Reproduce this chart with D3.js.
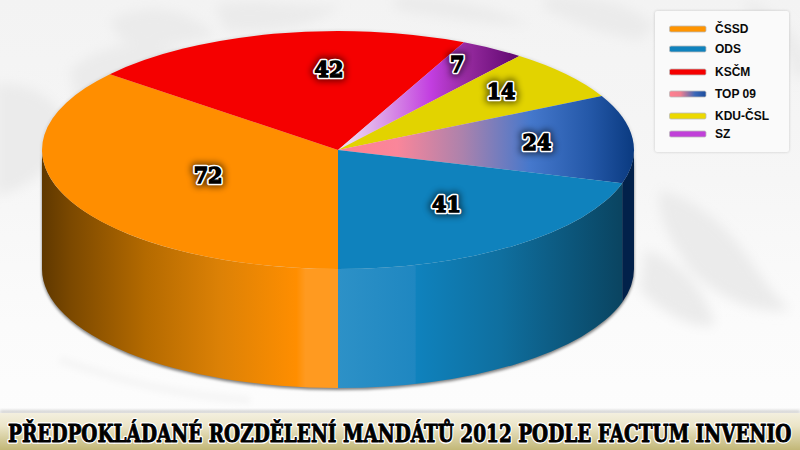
<!DOCTYPE html>
<html><head><meta charset="utf-8">
<script src="https://cdn.jsdelivr.net/npm/d3@7/dist/d3.min.js"></script>
<style>html,body{margin:0;padding:0;background:#fff;overflow:hidden}svg{display:block}</style>
</head><body><svg id="c" width="800" height="450"></svg>
<script>
// --- data ---
const parties = ["ČSSD","KSČM","SZ","KDU-ČSL","TOP 09","ODS"];   // clockwise from the bottom of the pie
const seats   = [72,42,7,14,24,41];
const legendOrder = ["ČSSD","ODS","KSČM","TOP 09","KDU-ČSL","SZ"];
const titleText = "PŘEDPOKLÁDANÉ ROZDĚLENÍ MANDÁTŮ 2012 PODLE FACTUM INVENIO";

// --- layout & style (kept apart from data) ---
const W=800,H=450,cx=338,cy=150,rx=296,ry=119,depth=119;
const topFill={"ČSSD":"#ff8e00","KSČM":"#f50000","SZ":"url(#gSZ)","KDU-ČSL":"#e2d300","TOP 09":"url(#gTOP)","ODS":"#0f82bd"};
const legendFill={"ČSSD":"#ff9400","ODS":"#0f82bd","KSČM":"#f50000","TOP 09":"url(#gLeg)","KDU-ČSL":"#ecd900","SZ":"#c040d8"};
const sideFill={"ČSSD":"url(#sO)","ODS":"url(#sB)","TOP 09":"#02214a"};
const labelFrac={"ČSSD":[.485,.49],"KSČM":[.14,.706],"SZ":[.77,.85],"KDU-ČSL":[.715,.79],"TOP 09":[.675,.715],"ODS":[.61,.557]};
const legendRowY=[29,49,72,94,116,134];

const svg=d3.select("#c");
const defs=svg.append("defs");
function lin(id,x1,x2,stops,units){
  const g=defs.append("linearGradient").attr("id",id).attr("x1",x1).attr("x2",x2).attr("y1",0).attr("y2",0)
    .attr("gradientUnits",units||"userSpaceOnUse");
  stops.forEach(s=>g.append("stop").attr("offset",s[0]).attr("stop-color",s[1]));
}
lin("gTOP",0,rx,[[0,"#ff8090"],[.2,"#fa869a"],[.42,"#ac82ac"],[.65,"#4578cc"],[.85,"#2458a8"],[1,"#0a3a80"]]);
lin("gSZ",10,176,[[0,"#ecd8f2"],[.25,"#d890e6"],[.5,"#c23ee0"],[.72,"#952a9e"],[1,"#640a74"]]);
lin("gLeg",0,1,[[0,"#ff8090"],[.3,"#f07f90"],[.7,"#3a68b8"],[1,"#1c4c9c"]],"objectBoundingBox");
lin("sO",cx-rx,cx,[[0,"#5f3800"],[.1,"#7c4900"],[.35,"#b46a00"],[.6,"#dc8106"],[.86,"#ff8e00"],[.89,"#ff9a20"],[1,"#ff9a20"]]);
lin("sB",cx,cx+rx,[[0,"#2d91c7"],[.26,"#1f87c1"],[.265,"#0f82bd"],[.55,"#0f6f9f"],[.95,"#0a4562"],[1,"#0a4562"]]);
const gBand=defs.append("linearGradient").attr("id","gBand").attr("x1",0).attr("x2",0).attr("y1",0).attr("y2",1);
[[0,"#f3efdf"],[.35,"#ebe5c8"],[1,"#c2b777"]].forEach(s=>gBand.append("stop").attr("offset",s[0]).attr("stop-color",s[1]));
const gBg=defs.append("linearGradient").attr("id","gBg").attr("x1",0).attr("x2",0).attr("y1",0).attr("y2",1);
[[0,"#f3f3f3"],[.4,"#f6f6f6"],[.72,"#fbfbfb"],[1,"#fdfdfd"]].forEach(s=>gBg.append("stop").attr("offset",s[0]).attr("stop-color",s[1]));
function mkBlur(id,sd){defs.append("filter").attr("id",id).attr("x","-50%").attr("y","-50%").attr("width","200%").attr("height","200%")
  .append("feGaussianBlur").attr("stdDeviation",sd);}
mkBlur("b1",1.6);mkBlur("b3",3);mkBlur("b5",6);

// background (faint embossed ornament)
svg.append("rect").attr("width",W).attr("height",H).attr("fill","url(#gBg)");
const tex=svg.append("g").attr("filter","url(#b5)").attr("fill","#ebebeb");
[
 "M70 70 C110 35 170 40 190 60 C170 85 130 110 80 120Z",
 "M110 20 C150 0 190 10 215 35 C185 45 150 50 120 40Z",
 "M-5 85 C30 80 60 100 70 130 C55 165 30 190 -5 195Z",
 "M215 5 C260 -5 300 10 340 5 C320 25 270 35 225 30Z",
 "M395 -5 C440 -5 490 5 530 25 C480 25 430 15 395 10Z",
 "M660 190 C700 200 730 230 750 260 C770 290 780 300 790 310 C760 315 720 300 690 270 C670 240 655 215 660 190Z",
 "M645 250 C680 260 705 290 715 325 C690 330 660 310 640 290Z",
 "M545 -5 C600 -5 630 5 655 25 L640 40 C600 35 570 20 545 10Z",
 "M745 0 C775 10 800 30 810 70 L795 80 C790 50 770 20 745 10Z"
].forEach(d=>tex.append("path").attr("d",d));
svg.append("path").attr("d","M60 360 C120 380 170 395 250 400").attr("fill","none").attr("stroke","#f5f5f5").attr("stroke-width",8).attr("filter","url(#b3)");

// pie layout
const pie=d3.pie().value(d=>d.v).sort(null).startAngle(Math.PI).endAngle(3*Math.PI);
const arcs=pie(parties.map((p,i)=>({p,v:seats[i]})));
const ex=a=>cx+rx*Math.sin(a), ey=(a,h=0)=>cy-ry*Math.cos(a)+h;

const wallPath=(a0,a1)=>{
  const large=(a1-a0)>Math.PI?1:0;
  return `M${ex(a0)},${ey(a0)}A${rx},${ry} 0 ${large} 1 ${ex(a1)},${ey(a1)}`+
         `L${ex(a1)},${ey(a1,depth)}A${rx},${ry} 0 ${large} 0 ${ex(a0)},${ey(a0,depth)}Z`;
};
// shadow below the pie
const fl=svg.append("g");
fl.append("path").attr("d",wallPath(Math.PI/2,3*Math.PI/2)).attr("transform","translate(0,2)").attr("fill","#000").attr("opacity",.5).attr("filter","url(#b1)");
fl.append("ellipse").attr("cx",cx).attr("cy",cy).attr("rx",rx+1).attr("ry",ry+1).attr("fill","#000").attr("opacity",.08).attr("filter","url(#b1)");

// side walls
arcs.forEach(d=>{
  const s=d.startAngle,e=d.endAngle;
  [[s,e],[s-2*Math.PI,e-2*Math.PI]].forEach(r=>{
    const a0=Math.max(r[0],Math.PI/2),a1=Math.min(r[1],3*Math.PI/2);
    if(a1>a0&&sideFill[d.data.p]) fl.append("path").attr("d",wallPath(a0,a1)).attr("fill",sideFill[d.data.p]);
  });
});

// top surface
const arcGen=d3.arc().innerRadius(0).outerRadius(rx);
const topG=svg.append("g").attr("transform",`translate(${cx},${cy}) scale(1,${ry/rx})`);
topG.selectAll("path").data(arcs).join("path").attr("d",arcGen).attr("fill",d=>topFill[d.data.p]);

// value labels
const lblFont="'DejaVu Serif Condensed','DejaVu Serif',serif";
const labels=svg.append("g").attr("font-family",lblFont).attr("font-weight",700).attr("font-size",23).attr("text-anchor","middle");
arcs.forEach(d=>{
  const mid=(d.startAngle+d.endAngle)/2,f=labelFrac[d.data.p];
  const x=cx+rx*Math.sin(mid)*f[0], y=cy-ry*Math.cos(mid)*f[1]+8.5;
  labels.append("text").attr("x",x).attr("y",y).text(d.value).attr("fill","#000").attr("stroke","#000").attr("stroke-width",9).attr("opacity",.5).attr("filter","url(#b3)").attr("stroke-linejoin","round");
  labels.append("text").attr("x",x).attr("y",y).text(d.value).attr("fill","#000").attr("stroke","#fff").attr("stroke-width",4.6).attr("stroke-linejoin","round");
  labels.append("text").attr("x",x).attr("y",y).text(d.value).attr("fill","#000").attr("stroke","#000").attr("stroke-width",1.3);
});

// legend
const lg=svg.append("g");
lg.append("rect").attr("x",655).attr("y",11).attr("width",134).attr("height",141).attr("rx",2).attr("fill","#000").attr("opacity",.18).attr("filter","url(#b1)");
lg.append("rect").attr("x",655).attr("y",11).attr("width",134).attr("height",141).attr("rx",2).attr("fill","#fafafa");
legendOrder.forEach((p,i)=>{
  const y=legendRowY[i];
  lg.append("rect").attr("x",669.5).attr("y",y-3).attr("width",36.5).attr("height",6).attr("rx",1.5).attr("fill",legendFill[p]).attr("stroke","#bbb").attr("stroke-width",.8);
  lg.append("text").attr("x",715).attr("y",y+4).attr("font-family","'Liberation Sans',Arial,sans-serif").attr("font-weight",700).attr("font-size",12).attr("fill","#0a0a0a").text(p);
});

// title band
svg.append("rect").attr("x",0).attr("y",410).attr("width",W).attr("height",4).attr("fill","#bbb").attr("opacity",.6).attr("filter","url(#b1)");
svg.append("rect").attr("x",0).attr("y",413).attr("width",W).attr("height",37).attr("fill","url(#gBand)");
const tt=(stroke,sw)=>svg.append("text").attr("font-family","'DejaVu Serif Condensed','DejaVu Serif',serif").attr("font-weight",700).attr("font-size",25)
  .attr("fill","#000").attr("stroke",stroke).attr("stroke-width",sw).attr("stroke-linejoin","round").text(titleText);
[tt("#fff",3.6),tt("#000",.9)].forEach(t=>{
  const k=784/t.node().getComputedTextLength();
  t.attr("transform",`translate(8,442) scale(${k},1)`);
});
</script></body></html>
